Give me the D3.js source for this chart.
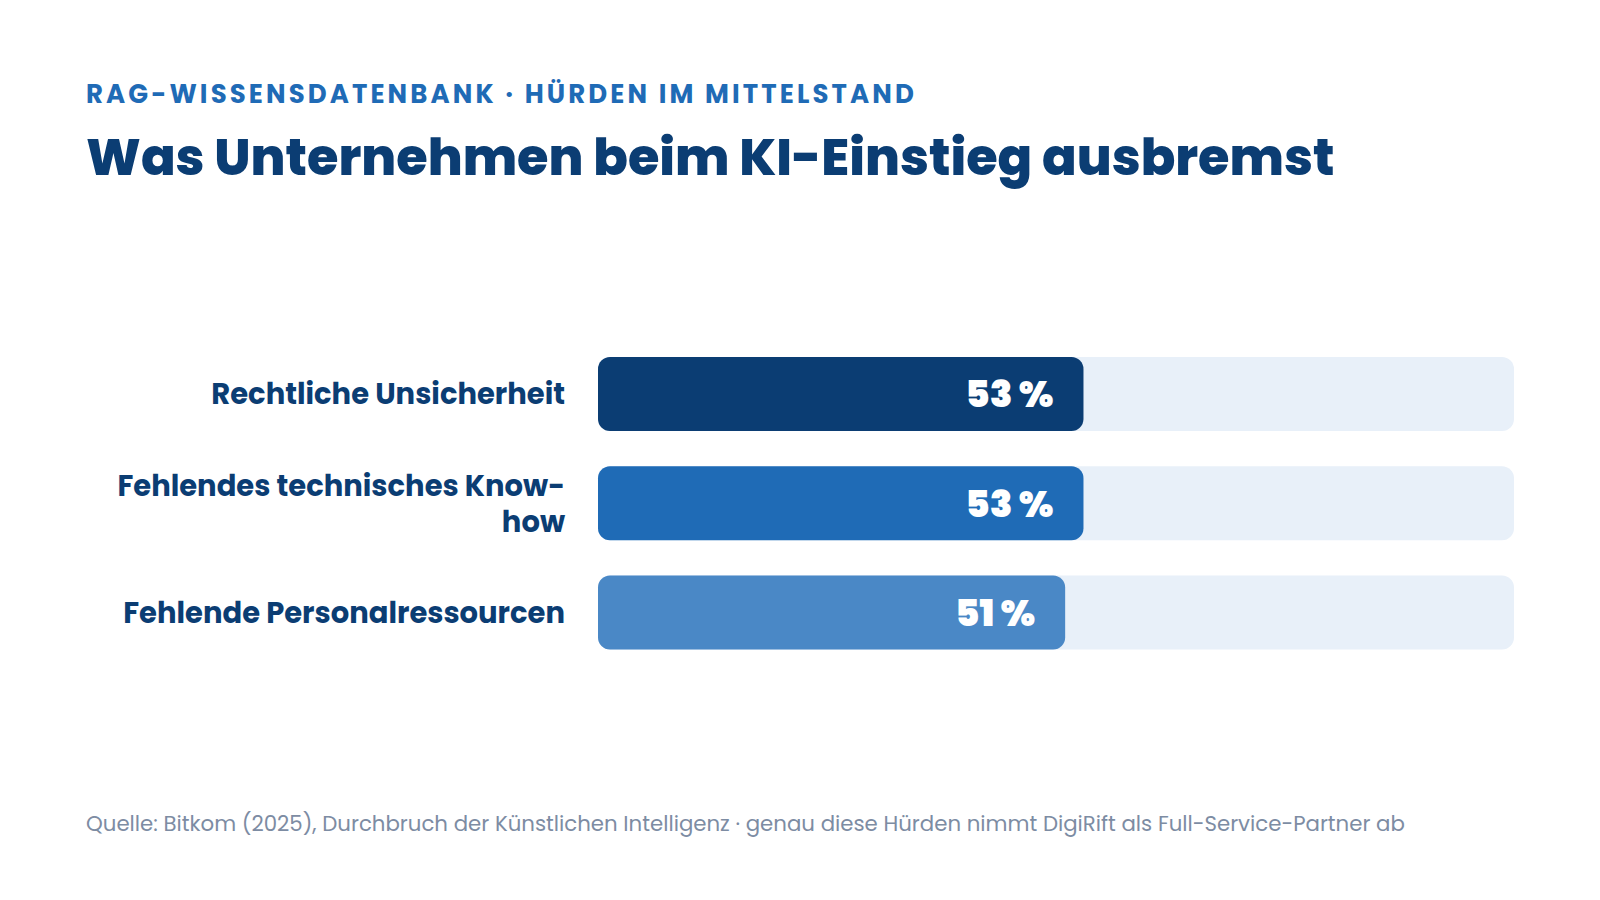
<!DOCTYPE html>
<html>
<head>
<meta charset="utf-8">
<script src="https://cdn.jsdelivr.net/npm/d3@7"></script>
<style>
  body { margin: 0; background: #fff; }
  svg { display: block; font-family: "Poppins", "Inter", "Noto Sans", sans-serif; }
</style>
</head>
<body>
<div id="chart"></div>
<script>
// Data
const categories = ["Rechtliche Unsicherheit", "Fehlendes technisches Know-how", "Fehlende Personalressourcen"];
const values = [53, 53, 51];
const barColors = ["#0b3d73", "#1f6bb6", "#4a88c6"];

const kicker = "RAG-WISSENSDATENBANK · HÜRDEN IM MITTELSTAND";
const title = "Was Unternehmen beim KI-Einstieg ausbremst";
const source = "Quelle: Bitkom (2025), Durchbruch der Künstlichen Intelligenz · genau diese Hürden nimmt DigiRift als Full-Service-Partner ab";

// Dimensions
const dimensions = {
  width: 1600,
  height: 900,
  left: 86,
  barLeft: 598,
  barRight: 1514,
  top: 357,
  step: 109.2,
  barHeight: 74,
};

const svg = d3
  .select("#chart")
  .append("svg")
  .attr("width", dimensions.width)
  .attr("height", dimensions.height);

// Header
svg.append("text")
  .attr("x", dimensions.left)
  .attr("y", 103)
  .attr("fill", "#1f6bb6")
  .attr("font-size", 26)
  .attr("font-weight", 700)
  .attr("letter-spacing", 3.1)
  .text(kicker);

svg.append("text")
  .attr("x", dimensions.left)
  .attr("y", 175)
  .attr("fill", "#0b3d73")
  .attr("font-size", 51)
  .attr("font-weight", 800)
  .text(title);

// Scales
const xScale = d3.scaleLinear()
  .domain([0, 100])
  .range([dimensions.barLeft, dimensions.barRight]);

const padding = (dimensions.step - dimensions.barHeight) / dimensions.step;
const yScale = d3.scaleBand()
  .domain(categories)
  .range([dimensions.top, dimensions.top + dimensions.step * (categories.length - padding)])
  .paddingInner(padding)
  .paddingOuter(0);

const rows = svg.selectAll("g.row")
  .data(categories)
  .join("g")
  .attr("class", "row");

// Track
rows.append("rect")
  .attr("x", xScale(0))
  .attr("y", (d) => yScale(d))
  .attr("width", xScale(100) - xScale(0))
  .attr("height", yScale.bandwidth())
  .attr("rx", 12)
  .attr("fill", "#e8f0f9");

// Bars
rows.append("rect")
  .attr("x", xScale(0))
  .attr("y", (d) => yScale(d))
  .attr("width", (d, i) => xScale(values[i]) - xScale(0))
  .attr("height", yScale.bandwidth())
  .attr("rx", 12)
  .attr("fill", (d, i) => barColors[i]);

// Value labels
rows.append("text")
  .attr("x", (d, i) => xScale(values[i]) - 30)
  .attr("y", (d) => yScale(d) + yScale.bandwidth() / 2)
  .attr("dy", "0.36em")
  .attr("text-anchor", "end")
  .attr("fill", "#fff")
  .attr("font-size", 37)
  .attr("font-weight", 900)
  .text((d, i) => values[i] + " %");

// Category labels (wrapped, one text per line)
const labelX = 565;
const maxLabelWidth = 460;
const labelSize = 29;
const lineHeight = 36;
const probe = svg.append("text")
  .attr("font-size", labelSize)
  .attr("font-weight", 700)
  .attr("visibility", "hidden");

rows.each(function (d) {
  const parts = d.split(/(?<=[ -])/);
  const lines = [];
  let line = "";
  parts.forEach((p) => {
    probe.text((line + p).trim());
    if (line && probe.node().getComputedTextLength() > maxLabelWidth) {
      lines.push(line.trim());
      line = p;
    } else {
      line += p;
    }
  });
  lines.push(line.trim());
  const cy = yScale(d) + yScale.bandwidth() / 2;
  const y0 = cy - ((lines.length - 1) * lineHeight) / 2;
  d3.select(this)
    .selectAll("text.label")
    .data(lines)
    .join("text")
    .attr("class", "label")
    .attr("x", labelX)
    .attr("y", (l, i) => y0 + i * lineHeight)
    .attr("dy", "0.36em")
    .attr("text-anchor", "end")
    .attr("fill", "#0b3d73")
    .attr("font-size", labelSize)
    .attr("font-weight", 700)
    .text((l) => l);
});
probe.remove();

// Source
svg.append("text")
  .attr("x", dimensions.left)
  .attr("y", 831)
  .attr("fill", "#7d8ca3")
  .attr("font-size", 21.3)
  .attr("font-weight", 400)
  .text(source);
</script>
</body>
</html>
